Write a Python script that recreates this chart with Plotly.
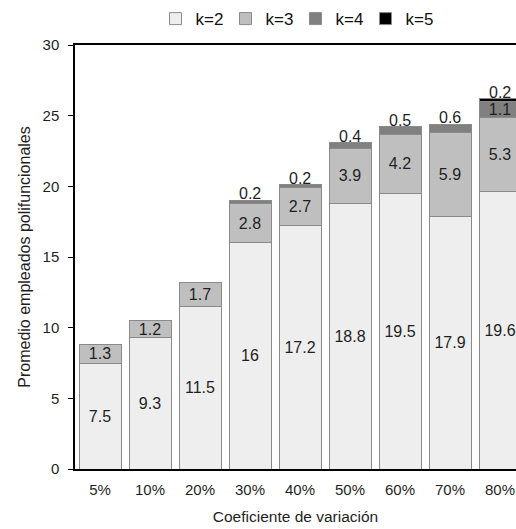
import plotly.graph_objects as go

categories = ["5%", "10%", "20%", "30%", "40%", "50%", "60%", "70%", "80%"]
k2 = [7.5, 9.3, 11.5, 16, 17.2, 18.8, 19.5, 17.9, 19.6]
k3 = [1.3, 1.2, 1.7, 2.8, 2.7, 3.9, 4.2, 5.9, 5.3]
k4 = [None, None, None, 0.2, 0.2, 0.4, 0.5, 0.6, 1.1]
k5 = [None, None, None, None, None, None, None, None, 0.2]

series = [("k=2", k2, "#EEEEEE"), ("k=3", k3, "#BFBFBF"),
          ("k=4", k4, "#808080"), ("k=5", k5, "#000000")]

FONT = "Liberation Sans, Arial, sans-serif"
TXT = "#1f1f1f"
SMALL = 1.0  # segments thinner than this get their label above the stack


def fmt(v):
    return f"{v:g}"


fig = go.Figure()
for name, vals, color in series:
    texts = [fmt(v) if (v is not None and v >= SMALL) else "" for v in vals]
    fig.add_trace(go.Bar(
        name=name, x=categories, y=vals, text=texts,
        textposition="inside", insidetextanchor="middle", textangle=0,
        constraintext="none",
        textfont=dict(family=FONT, size=16, color=TXT),
        marker=dict(color=color, line=dict(color="#8a8a8a", width=1)),
        hoverinfo="skip",
    ))

# labels for thin top segments sit on top of each stack
for i, cat in enumerate(categories):
    segs = [s[1][i] for s in series if s[1][i] is not None]
    total = sum(segs)
    top = segs[-1]
    if top < SMALL:
        fig.add_annotation(x=cat, y=total, text=fmt(top), showarrow=False,
                           yanchor="bottom", yshift=-4,
                           font=dict(family=FONT, size=16, color=TXT))

fig.update_layout(
    barmode="stack", bargap=0.16,
    width=516, height=529,
    margin=dict(l=75, r=0, t=45, b=60),
    paper_bgcolor="white", plot_bgcolor="white",
    font=dict(family=FONT, size=15, color=TXT),
    legend=dict(orientation="h", x=0.5, xanchor="center",
                yref="container", y=0.998, yanchor="top",
                entrywidth=25, traceorder="normal",
                font=dict(family=FONT, size=17, color="#111111")),
    xaxis=dict(range=[-0.5, 8.32], showline=True, linecolor="#000000",
               linewidth=1.5, mirror=True, ticks="", showgrid=False,
               ticklabelstandoff=6,
               tickfont=dict(size=15, color=TXT),
               title=dict(text="Coeficiente de variación",
                          font=dict(size=15.5, color=TXT), standoff=14)),
    yaxis=dict(range=[0, 30], dtick=5, showline=True, linecolor="#000000",
               linewidth=1.5, ticks="outside", ticklen=5, tickcolor="#000000",
               showgrid=False, zeroline=False, ticklabelstandoff=6,
               tickfont=dict(size=15, color=TXT),
               title=dict(text="Promedio empleados polifuncionales",
                          font=dict(size=16, color=TXT), standoff=8)),
)

fig.write_html("out.html")
